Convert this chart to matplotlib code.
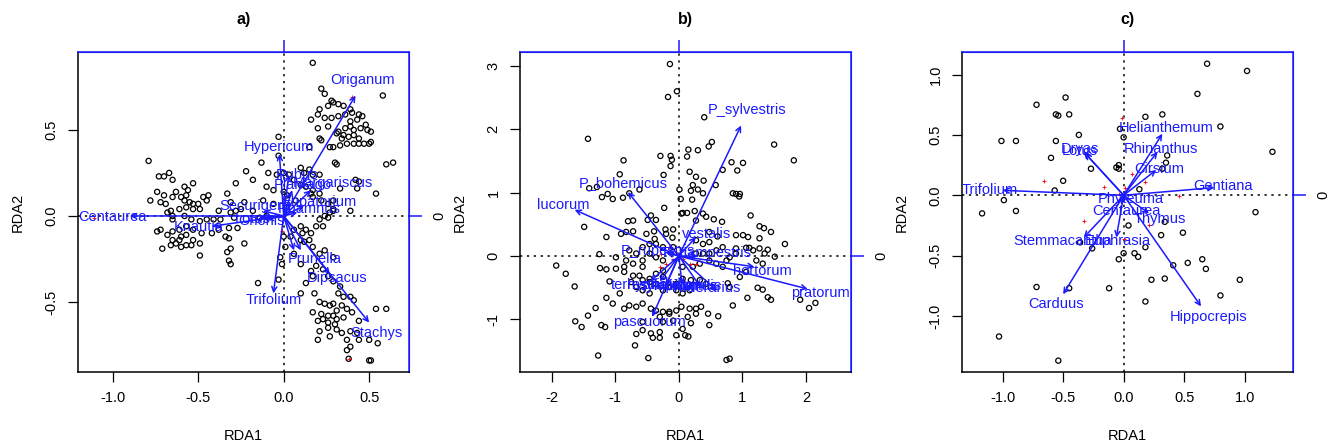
import numpy as np
import matplotlib
matplotlib.use("Agg")
import matplotlib.pyplot as plt

plt.rcParams['font.family'] = ['Liberation Sans', 'DejaVu Sans']

# ---- panel a) site scores (RDA1, RDA2)
a_sites = [
    (0.17, 0.89), (0.58, 0.70), (0.22, 0.74), (0.24, 0.71), (0.28, 0.67), (0.29, 0.66),
    (0.26, 0.64), (0.32, 0.65), (0.35, 0.64), (0.39, 0.62), (0.21, 0.62), (0.16, 0.56),
    (0.20, 0.59), (0.24, 0.57), (0.28, 0.57), (0.32, 0.58), (0.36, 0.59), (0.40, 0.60),
    (0.44, 0.59), (0.46, 0.58), (0.39, 0.55), (0.43, 0.56), (0.48, 0.53), (0.45, 0.51),
    (0.49, 0.50), (0.51, 0.49), (0.20, 0.51), (0.26, 0.52), (0.32, 0.49), (0.36, 0.51),
    (0.39, 0.52), (0.41, 0.50), (0.31, 0.48), (0.35, 0.47), (0.38, 0.46), (0.41, 0.47),
    (0.44, 0.45), (0.47, 0.42), (0.50, 0.42), (0.51, 0.43), (0.22, 0.44), (0.27, 0.40),
    (0.29, 0.40), (0.33, 0.41), (0.37, 0.42), (0.41, 0.42), (0.44, 0.42), (0.15, 0.40),
    (0.30, 0.31), (0.31, 0.30), (0.60, 0.30), (0.64, 0.31), (0.42, 0.21), (0.44, 0.20),
    (0.43, 0.16), (0.54, 0.13), (0.33, 0.16), (0.39, 0.03), (-0.03, 0.46), (0.21, 0.45),
    (0.34, 0.45),
    (-0.13, 0.31), (-0.22, 0.26), (-0.09, 0.25), (-0.04, 0.24), (0.00, 0.25), (0.03, 0.24),
    (0.10, 0.28), (0.12, 0.25), (0.15, 0.27), (0.17, 0.24), (0.21, 0.24), (0.06, 0.21),
    (0.10, 0.18), (0.13, 0.17), (0.17, 0.15), (0.21, 0.13), (-0.10, 0.17), (-0.06, 0.15),
    (0.00, 0.14), (0.02, 0.12), (0.07, 0.09), (0.17, 0.11), (0.16, 0.13), (0.22, 0.09),
    (0.26, 0.07), (0.29, 0.09), (0.29, 0.04), (-0.28, 0.19), (-0.33, 0.13), (-0.31, 0.08),
    (-0.18, 0.21), (-0.12, 0.09), (-0.06, 0.07), (-0.18, 0.03), (-0.14, -0.01), (-0.10, 0.00),
    (-0.03, 0.35),
    (-0.79, 0.32), (-0.73, 0.23), (-0.70, 0.23), (-0.67, 0.25), (-0.65, 0.21), (-0.74, 0.14),
    (-0.70, 0.12), (-0.78, 0.09), (-0.72, 0.08), (-0.69, 0.07), (-0.65, 0.11), (-0.63, 0.14),
    (-0.60, 0.11), (-0.58, 0.17), (-0.57, 0.12), (-0.56, 0.15), (-0.53, 0.19), (-0.58, 0.09),
    (-0.55, 0.08), (-0.53, 0.07), (-0.50, 0.07), (-0.47, 0.11), (-0.45, 0.09), (-0.44, 0.12),
    (-0.57, 0.05), (-0.53, 0.04), (-0.49, 0.04), (-0.61, 0.04), (-0.66, 0.03), (-0.65, 0.00),
    (-0.68, 0.02), (-0.65, -0.02), (-0.58, 0.00), (-0.54, -0.02), (-0.49, -0.03), (-0.45, -0.02),
    (-0.38, 0.03), (-0.41, -0.02), (-0.37, -0.02), (-0.31, 0.02), (-0.29, -0.01), (-0.38, -0.08),
    (-0.42, -0.10), (-0.48, -0.10), (-0.53, -0.08), (-0.57, -0.06), (-0.61, -0.08), (-0.65, -0.09),
    (-0.68, -0.11), (-0.72, -0.08), (-0.74, -0.09), (-0.65, -0.14), (-0.63, -0.16), (-0.60, -0.18),
    (-0.57, -0.17), (-0.53, -0.14), (-0.57, -0.11), (-0.60, -0.12), (-0.71, -0.19), (-0.66, -0.17),
    (-0.61, -0.14), (-0.49, -0.16), (-0.54, -0.17), (-0.49, -0.23), (-0.32, -0.07), (-0.27, -0.07),
    (-0.32, -0.13), (-0.34, -0.12), (-0.23, -0.16), (-0.31, -0.19), (-0.33, -0.21), (-0.32, -0.26),
    (-0.31, -0.28), (-0.25, 0.04), (-0.23, 0.08), (-0.28, 0.03),
    (0.00, -0.12), (0.01, -0.18), (0.04, -0.12), (0.06, -0.08), (0.10, -0.06), (0.11, -0.10),
    (0.13, -0.08), (0.16, -0.10), (0.19, -0.06), (0.21, -0.02), (0.23, -0.06), (0.24, 0.00),
    (0.26, -0.01), (0.27, 0.02), (0.29, 0.03), (0.10, -0.14), (0.12, -0.15), (0.15, -0.14),
    (0.17, -0.18), (0.21, -0.22), (0.24, -0.20), (0.29, -0.24), (0.06, -0.22), (-0.02, -0.24),
    (-0.01, -0.28), (0.10, -0.28), (0.16, -0.32), (0.19, -0.29), (0.23, -0.31), (0.26, -0.35),
    (0.29, -0.38), (0.17, -0.35), (0.13, -0.39), (0.10, -0.45), (0.18, -0.45), (0.33, -0.41),
    (0.32, -0.45), (0.35, -0.47), (0.39, -0.47), (0.41, -0.49), (0.21, -0.50), (0.24, -0.51),
    (0.27, -0.52), (0.29, -0.51), (0.31, -0.55), (0.34, -0.52), (0.37, -0.54), (0.40, -0.56),
    (0.17, -0.56), (0.22, -0.57), (0.26, -0.58), (0.29, -0.58), (0.31, -0.60), (0.35, -0.59),
    (0.20, -0.61), (0.23, -0.60), (0.26, -0.62), (0.30, -0.63), (0.44, -0.61), (0.21, -0.67),
    (0.26, -0.65), (0.31, -0.66), (0.34, -0.68), (0.39, -0.67), (0.43, -0.68), (0.20, -0.72),
    (0.27, -0.70), (0.37, -0.72), (0.44, -0.72), (0.50, -0.72), (0.54, -0.54), (0.60, -0.54),
    (0.55, -0.74), (0.39, -0.76), (0.37, -0.78), (0.38, -0.83), (0.50, -0.84), (0.51, -0.84),
    (-0.15, -0.39), (-0.03, -0.37),
]
a_species_plus = [(0.40, 0.69), (0.38, -0.83), (-0.01, -0.09), (-1.11, -0.01)]
a_arrow_names = ["Origanum", "Hypericum", "Centaurea", "Knautia", "Trifolium", "Stachys",
                 "Dipsacus", "Prunella", "Rubus", "Plantago", "Margariscus", "Securigera",
                 "Eupatorium", "Rhamnus", "Lotus", "Ononis", ""]
a_arrow_heads = [(0.42, 0.70), (-0.025, 0.36), (-0.90, 0.0), (-0.42, -0.06), (-0.06, -0.45),
                 (0.50, -0.62), (0.27, -0.34), (0.10, -0.20), (0.03, 0.24), (0.05, 0.15),
                 (0.16, 0.15), (-0.12, 0.03), (0.12, 0.06), (0.08, 0.02), (-0.14, -0.01),
                 (-0.10, -0.02), (0.06, -0.20)]
a_label_pos = [(0.46, 0.79), (-0.03, 0.40), (-1.00, -0.005), (-0.50, -0.065), (-0.06, -0.49),
               (0.54, -0.68), (0.31, -0.36), (0.18, -0.25), (0.08, 0.24), (0.11, 0.18),
               (0.29, 0.19), (-0.17, 0.06), (0.21, 0.08), (0.15, 0.04), (-0.18, -0.02),
               (-0.13, -0.03), (0.06, -0.20)]

# ---- panel b)
b_sites = [
    (-0.14, 3.03), (-0.03, 2.60), (-0.17, 2.51), (0.40, 2.19), (-1.43, 1.85), (1.50, 1.76),
    (1.81, 1.51), (0.52, 1.80), (0.47, 1.73), (0.15, 1.68), (0.30, 1.67), (-0.87, 1.51),
    (-0.29, 1.58), (-0.13, 1.58), (-0.11, 1.52), (0.13, 1.57), (-0.13, 1.42), (0.83, 1.48),
    (1.01, 1.47), (0.69, 1.36), (0.92, 1.35), (-0.93, 1.29), (-0.24, 1.28), (0.17, 1.33),
    (0.27, 1.25), (0.39, 1.19), (0.22, 1.12), (0.58, 1.12), (0.19, 1.03), (0.30, 1.05),
    (0.38, 0.99), (0.01, 1.05), (-0.62, 1.05), (-1.41, 1.07), (-1.29, 1.09), (-1.12, 0.98),
    (-1.21, 0.93), (-1.04, 0.90), (-0.88, 0.92), (-0.78, 0.99), (0.85, 0.99), (0.90, 0.98),
    (0.96, 0.98), (0.95, 0.94), (-0.23, 0.76), (0.21, 0.89), (0.03, 0.90), (0.04, 0.67),
    (0.13, 0.68), (0.06, 0.68), (0.25, 0.71), (0.38, 0.67), (-0.44, 0.64), (1.13, 0.64),
    (-1.49, 0.46), (-0.80, 0.55), (-0.72, 0.56), (-0.49, 0.57), (-0.36, 0.57), (0.27, 0.56),
    (0.43, 0.62), (0.55, 0.58), (0.68, 0.54), (1.27, 0.47), (1.34, 0.44), (1.45, 0.38),
    (1.67, 0.19), (-1.14, 0.30), (-0.91, 0.35), (-0.83, 0.38), (-0.72, 0.39), (-0.39, 0.39),
    (-0.21, 0.42), (-0.20, 0.35), (-0.10, 0.29), (-0.38, 0.27), (-0.09, 0.42), (0.48, 0.38),
    (0.61, 0.31), (0.90, 0.33), (1.01, 0.33), (1.09, 0.30), (1.27, 0.28), (-1.25, 0.03),
    (-1.93, -0.15), (-1.78, -0.28), (-1.64, -0.48), (-1.24, -0.19), (-1.14, -0.21), (-1.09, -0.40),
    (-0.99, -0.20), (-0.86, -0.17), (-0.83, -0.07), (-0.78, 0.09), (-0.67, 0.04), (-0.57, 0.14),
    (-0.46, 0.04), (-0.36, -0.02), (-0.25, -0.07), (-0.99, -0.02), (-0.72, -0.12), (-0.57, -0.07),
    (-0.86, -0.25), (-0.72, -0.31), (-0.62, -0.31), (-0.75, -0.41), (-0.57, -0.38), (-0.46, -0.41),
    (-0.36, -0.28), (-0.25, -0.23), (0.06, -0.17), (0.22, -0.17), (0.33, -0.12), (0.48, -0.07),
    (0.59, -0.12), (0.69, -0.17), (0.75, -0.07), (0.80, -0.02), (0.90, 0.12), (1.06, 0.13),
    (1.17, 0.09), (1.27, 0.12), (1.35, 0.04), (1.40, 0.10), (1.51, -0.01), (1.11, 0.13),
    (1.22, -0.07), (1.32, -0.12), (0.96, -0.33), (1.06, -0.25), (0.77, -0.43), (0.80, -0.49),
    (1.24, -0.50), (1.32, -0.53), (1.40, -0.65), (1.45, -0.69), (1.08, -0.66), (1.91, -0.69),
    (2.05, -0.82), (2.15, -0.74), (0.85, -0.78), (-1.14, -0.66), (-1.31, -0.82), (-1.43, -0.94),
    (-1.53, -1.12), (-1.63, -1.03), (-1.22, -1.09), (-1.16, -1.12), (-1.04, -0.75), (-0.93, -0.59),
    (-0.86, -0.83), (-0.78, -0.78), (-0.67, -0.80), (-0.57, -0.75), (-0.44, -0.83), (-0.36, -0.86),
    (-0.25, -0.88), (-0.15, -0.88), (-0.04, -0.86), (0.04, -0.80), (0.17, -0.83), (0.27, -0.83),
    (0.35, -0.80), (0.27, -0.91), (0.19, -1.06), (0.14, -0.96), (0.46, -0.91), (0.48, -1.09),
    (0.62, -0.95), (-0.57, -1.04), (-0.67, -1.23), (-0.57, -1.17), (-0.44, -1.22), (-0.30, -1.20),
    (-0.41, -1.29), (-0.30, -1.29), (-0.04, -1.25), (0.06, -1.15), (0.10, -1.25), (0.15, -1.27),
    (-0.69, -1.41), (-0.48, -1.61), (-1.27, -1.57), (0.75, -1.64), (0.80, -1.62), (-0.30, -0.96),
    (-0.25, -1.04), (-0.15, -0.91), (-0.09, -1.02), (-0.04, -0.54), (0.06, -0.59), (0.17, -0.54),
    (-0.46, -0.59), (-0.57, -0.54), (-0.67, -0.49), (-0.25, -0.54), (-0.15, -0.49), (-0.04, -0.44),
    (0.06, -0.36), (0.19, -0.38), (0.33, -0.38), (0.43, -0.44), (-0.36, -0.44), (-0.46, -0.36),
    (-0.25, -0.33), (-0.57, -0.17), (0.27, 0.04), (0.38, 0.04), (0.48, 0.04), (0.59, 0.09),
    (0.69, 0.14), (0.90, 0.04), (-0.25, 0.14), (-0.09, 0.14), (-0.36, 0.19), (-0.46, 0.19),
    (-0.51, 0.35), (0.27, 0.25), (0.38, 0.19), (0.48, 0.22),
]
b_species_plus = [(-0.15, 0.14), (-0.28, 0.04), (-0.09, -0.07), (0.06, -0.04), (0.17, -0.12),
                  (0.27, -0.12), (-0.30, -0.17), (-0.04, 0.06), (0.04, 0.10), (-0.20, -0.12)]
b_arrow_names = ["P_sylvestris", "P_bohemicus", "lucorum", "pratorum", "hortorum", "pascuorum",
                 "vestalis", "P_campestris", "terrestris", "lapidarius", "sylvarum", "humilis",
                 "ruderarius", "hypnorum", "P_rupestris"]
b_arrow_heads = [(0.98, 2.06), (-0.80, 1.01), (-1.64, 0.73), (2.03, -0.52), (1.19, -0.17),
                 (-0.42, -0.96), (0.27, 0.30), (0.30, 0.00), (-0.45, -0.40), (0.05, -0.45),
                 (-0.20, -0.45), (0.35, -0.50), (0.60, -0.55), (-0.30, -0.40), (-0.20, 0.05)]
b_label_pos = [(1.08, 2.30), (-0.88, 1.15), (-1.82, 0.81), (2.23, -0.58), (1.32, -0.23),
               (-0.46, -1.04), (0.43, 0.34), (0.45, 0.05), (-0.62, -0.45), (0.10, -0.48),
               (-0.15, -0.47), (0.30, -0.47), (0.45, -0.50), (-0.30, -0.45), (-0.33, 0.08)]

# ---- panel c)
c_sites = [
    (0.69, 1.09), (1.02, 1.03), (0.61, 0.84), (-0.48, 0.81), (-0.72, 0.75), (-0.56, 0.67),
    (-0.54, 0.66), (-0.45, 0.67), (0.18, 0.65), (0.32, 0.67), (0.80, 0.57), (-0.03, 0.55),
    (0.00, 0.48), (-0.37, 0.50), (-1.01, 0.45), (-0.89, 0.45), (-0.56, 0.45), (1.23, 0.36),
    (-0.60, 0.31), (0.36, 0.33), (0.35, 0.27), (-0.06, 0.23), (-0.04, 0.25), (-0.04, 0.22),
    (-0.27, 0.22), (-0.50, 0.12), (0.32, 0.22), (-0.57, 0.04), (0.13, 0.05), (-0.99, -0.04),
    (-0.89, -0.13), (-1.17, -0.15), (1.09, -0.14), (0.34, -0.22), (0.04, -0.25), (0.31, -0.33),
    (0.49, -0.31), (-0.36, -0.39), (-0.26, -0.44), (0.18, -0.43), (0.00, -0.48), (-0.04, -0.53),
    (0.09, -0.48), (0.12, -0.51), (0.65, -0.53), (0.53, -0.56), (0.41, -0.58), (0.68, -0.61),
    (0.23, -0.70), (0.34, -0.69), (0.96, -0.70), (-0.72, -0.76), (-0.45, -0.77), (-0.12, -0.77),
    (0.80, -0.83), (0.18, -0.88), (-1.03, -1.17), (-0.54, -1.37),
]
c_species_plus = [(-0.01, 0.64), (-0.66, 0.12), (-0.16, 0.07), (0.07, 0.18), (0.18, 0.11),
                  (0.46, -0.01), (-0.33, -0.21), (0.21, -0.25), (-0.04, 0.01), (0.01, 0.06),
                  (0.00, -0.36)]
c_arrow_names = ["Helianthemum", "Rhinanthus", "Cirsium", "Gentiana", "Trifolium", "Dryas",
                 "Lotus", "Phyteuma", "Centaurea", "Thymus", "Stemmacantha", "Euphrasia",
                 "Carduus", "Hippocrepis"]
c_arrow_heads = [(0.32, 0.51), (0.28, 0.36), (0.27, 0.21), (0.75, 0.064), (-1.0, 0.041),
                 (-0.33, 0.36), (-0.32, 0.35), (0.02, -0.03), (-0.02, -0.08), (0.21, -0.15),
                 (-0.33, -0.35), (-0.06, -0.35), (-0.50, -0.82), (0.64, -0.92)]
c_label_pos = [(0.355, 0.558), (0.31, 0.387), (0.295, 0.221), (0.818, 0.075), (-1.105, 0.041),
               (-0.36, 0.38), (-0.36, 0.37), (0.06, -0.033), (0.02, -0.13), (0.295, -0.193),
               (-0.50, -0.378), (-0.05, -0.378), (-0.559, -0.903), (0.702, -1.008)]

panels = [
    ("a)", a_sites, a_species_plus, a_arrow_names, a_arrow_heads, a_label_pos,
     (-1.203, 0.733), (-0.907, 0.953), [-1.0, -0.5, 0.0, 0.5], [-0.5, 0.0, 0.5]),
    ("b)", b_sites, b_species_plus, b_arrow_names, b_arrow_heads, b_label_pos,
     (-2.50, 2.71), (-1.83, 3.22), [-2, -1, 0, 1, 2], [-1, 0, 1, 2, 3]),
    ("c)", c_sites, c_species_plus, c_arrow_names, c_arrow_heads, c_label_pos,
     (-1.336, 1.40), (-1.464, 1.187), [-1.0, -0.5, 0.0, 0.5, 1.0], [-1.0, -0.5, 0.0, 0.5, 1.0]),
]

fig = plt.figure(figsize=(13.28, 4.46), dpi=100)
lefts = [78 / 1328, 520 / 1328, 962 / 1328]
blue = '#1a1aff'

for left, (title, sites, plus, names, heads, labpos, xl, yl, xt, yt) in zip(lefts, panels):
    ax = fig.add_axes([left, 74 / 446, 331 / 1328, 320 / 446])
    ax.set_xlim(xl)
    ax.set_ylim(yl)
    ax.axhline(0, color='black', ls=(0, (1.5, 3)), lw=1.1, zorder=1)
    ax.axvline(0, color='black', ls=(0, (1.5, 3)), lw=1.1, zorder=1)

    s = np.array(sites)
    ax.scatter(s[:, 0], s[:, 1], s=14, facecolors='none', edgecolors='black',
               linewidths=0.9, zorder=2)
    p = np.array(plus)
    ax.scatter(p[:, 0], p[:, 1], s=12, marker='+', color='red', linewidths=0.6, zorder=3)

    for name, (hx, hy), (lx, ly) in zip(names, heads, labpos):
        ax.annotate('', xy=(hx, hy), xytext=(0, 0),
                    arrowprops=dict(arrowstyle='->', color=blue, lw=1.1,
                                    shrinkA=0, shrinkB=0, mutation_scale=9), zorder=4)
        if name:
            ax.text(lx, ly, name, color=blue, fontsize=10.5, ha='center', va='center',
                    zorder=5)

    ax.set_xticks(xt)
    ax.set_yticks(yt)
    ax.set_xticklabels([f"{v:g}" if isinstance(v, int) else f"{v:.1f}" for v in xt])
    ax.set_yticklabels([f"{v:g}" if isinstance(v, int) else f"{v:.1f}" for v in yt],
                       rotation=90, va='center')
    ax.tick_params(direction='out', length=7, width=0.9, labelsize=10.5, pad=7)
    for side in ['left', 'bottom']:
        ax.spines[side].set_color('black')
        ax.spines[side].set_linewidth(1.1)
    for side in ['top', 'right']:
        ax.spines[side].set_color(blue)
        ax.spines[side].set_linewidth(1.1)

    sec_x = ax.secondary_xaxis('top')
    sec_x.set_xticks([0])
    sec_x.set_xticklabels([''])
    sec_x.tick_params(colors=blue, length=9, width=1.1)
    sec_x.spines['top'].set_color(blue)
    sec_y = ax.secondary_yaxis('right')
    sec_y.set_yticks([0])
    sec_y.set_yticklabels(['0'], rotation=90, va='center')
    sec_y.tick_params(colors=blue, length=9, width=1.1, labelsize=10.5, labelcolor='black',
                      pad=8)
    sec_y.spines['right'].set_color(blue)

    ax.set_xlabel('RDA1', fontsize=10.5, labelpad=17)
    ax.set_ylabel('RDA2', fontsize=10.5, labelpad=14)
    ax.set_title(title, fontsize=11.5, fontweight='bold', pad=20)

fig.savefig('out.png', dpi=100)
